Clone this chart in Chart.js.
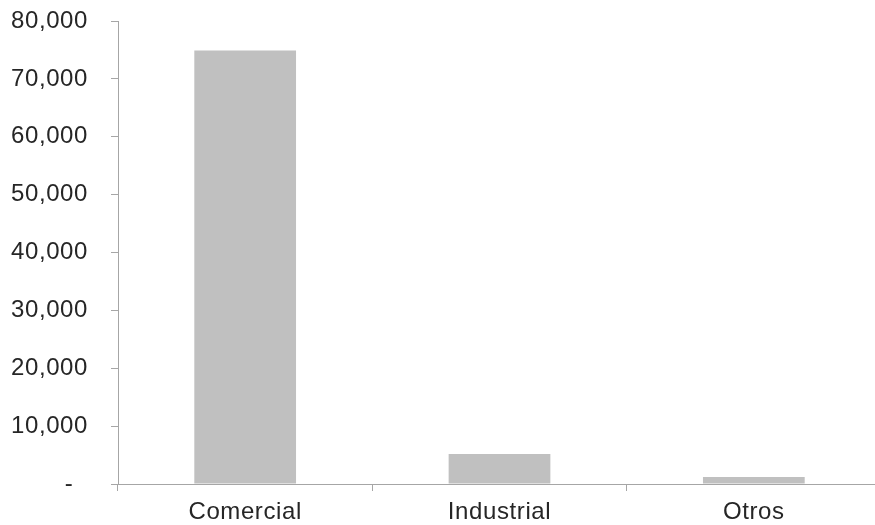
<!DOCTYPE html>
<html>
<head>
<meta charset="utf-8">
<script src="https://cdn.jsdelivr.net/npm/chart.js@4"></script>
<style>
  html, body { margin: 0; padding: 0; background: #fff; overflow: hidden; }
  canvas { display: block; }
</style>
</head>
<body>
<canvas id="chart" width="895" height="525"></canvas>
<script>
    // data
    var categories = ['Comercial', 'Industrial', 'Otros'];
    var values = [74900, 5200, 1200];
    var yTicks = [0, 10000, 20000, 30000, 40000, 50000, 60000, 70000, 80000];

    var axisGrey = '#a6a6a6';
    var textColor = '#262626';

    // spread letters a bit like the original
    var letterSpacingPlugin = {
        id: 'letterSpacing',
        beforeDraw: function (chart) {
            chart.ctx.letterSpacing = '0.6px';
        }
    };

    var ctx = document.getElementById('chart').getContext('2d');
    new Chart(ctx, {
        type: 'bar',
        data: {
            labels: categories,
            datasets: [{
                data: values,
                backgroundColor: '#c0c0c0',
                borderWidth: 0,
                categoryPercentage: 1,
                barPercentage: 0.4
            }]
        },
        options: {
            responsive: false,
            animation: false,
            devicePixelRatio: 1,
            layout: { padding: { top: 0, right: 14, left: 0, bottom: 0 } },
            plugins: {
                legend: { display: false },
                tooltip: { enabled: false }
            },
            scales: {
                x: {
                    grid: { drawOnChartArea: false, drawTicks: true, tickLength: 7, color: axisGrey },
                    border: { color: axisGrey },
                    ticks: {
                        color: textColor,
                        padding: 7,
                        font: { family: '"Liberation Sans", Arial, sans-serif', size: 24 }
                    },
                    afterFit: function (scale) { scale.height = 41; }
                },
                y: {
                    min: 0,
                    max: 80000,
                    afterBuildTicks: function (scale) {
                        scale.ticks = yTicks.map(function (v) { return { value: v }; });
                    },
                    grid: { drawOnChartArea: false, drawTicks: true, tickLength: 7, color: axisGrey },
                    border: { color: axisGrey },
                    ticks: {
                        color: textColor,
                        padding: 23,
                        font: { family: '"Liberation Sans", Arial, sans-serif', size: 24 },
                        callback: function (v) {
                            return v === 0 ? '-  ' : v.toLocaleString('en-US');
                        }
                    },
                    afterFit: function (scale) {
                        scale.width = 118;
                        scale.paddingTop = 21;
                        scale.paddingBottom = 0;
                    }
                }
            }
        },
        plugins: [letterSpacingPlugin]
    });
</script>
</body>
</html>
